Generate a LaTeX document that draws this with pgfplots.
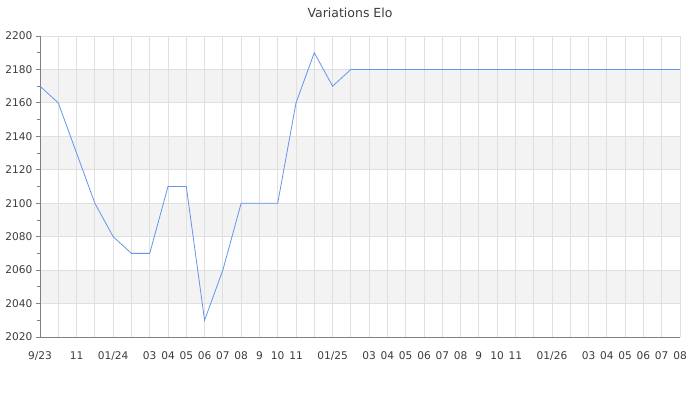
\documentclass[border=0pt]{standalone}
\usepackage{pgfplots}
\pgfplotsset{compat=1.18}
\usepackage{fontspec}
\setmainfont{DejaVu Sans}

\definecolor{eloblue}{RGB}{100,149,237}
\definecolor{gridgray}{RGB}{224,224,224}
\definecolor{bandgray}{RGB}{243,243,243}
\definecolor{axisgray}{RGB}{128,128,128}
\definecolor{textgray}{RGB}{60,60,60}

\begin{document}
\begin{tikzpicture}

\begin{axis}[
set layers=standard,
scale only axis,
width=640pt, height=301pt,
at={(40pt,63pt)}, anchor=south west,
xmin=0, xmax=35,
ymin=2020, ymax=2200,
axis x line*=bottom,
axis y line*=left,
axis line style={axisgray, line width=0.9pt},
xtick={0,...,35},
xticklabels={9/23,,11,,01/24,,03,04,05,06,07,08,9,10,11,,01/25,,03,04,05,06,07,08,9,10,11,,01/26,,03,04,05,06,07,08},
xtick style={draw=none},
ytick={2020,2040,...,2200},
minor ytick={2030,2050,...,2190},
tick align=outside,
ytick style={axisgray, line width=0.8pt},
major tick length=4pt,
minor tick length=3pt,
xmajorgrids, ymajorgrids,
grid style={gridgray, line width=0.8pt},
tick label style={text=textgray, font=\fontsize{10.6}{12}\selectfont},
xticklabel style={yshift=-7pt},
/pgf/number format/assume math mode=true,
/pgf/number format/1000 sep={},
]
\begin{pgfonlayer}{axis background}
\fill[bandgray] (axis cs:0,2040) rectangle (axis cs:35,2060);
\fill[bandgray] (axis cs:0,2080) rectangle (axis cs:35,2100);
\fill[bandgray] (axis cs:0,2120) rectangle (axis cs:35,2140);
\fill[bandgray] (axis cs:0,2160) rectangle (axis cs:35,2180);
\end{pgfonlayer}

\addplot[eloblue, line width=0.8pt, mark=none] coordinates {
(0,2170) (1,2160) (2,2130) (3,2100) (4,2080) (5,2070) (6,2070)
(7,2110) (8,2110) (9,2030) (10,2060) (11,2100) (12,2100) (13,2100)
(14,2160) (15,2190) (16,2170) (17,2180) (18,2180) (19,2180) (20,2180)
(21,2180) (22,2180) (23,2180) (24,2180) (25,2180) (26,2180) (27,2180)
(28,2180) (29,2180) (30,2180) (31,2180) (32,2180) (33,2180) (34,2180)
(35,2180)
};
\end{axis}

\node[text=textgray, font=\fontsize{12.5}{14}\selectfont] at (350pt,387pt) {Variations Elo};
\path (0,0) rectangle (700pt,400pt);
\end{tikzpicture}
\end{document}
